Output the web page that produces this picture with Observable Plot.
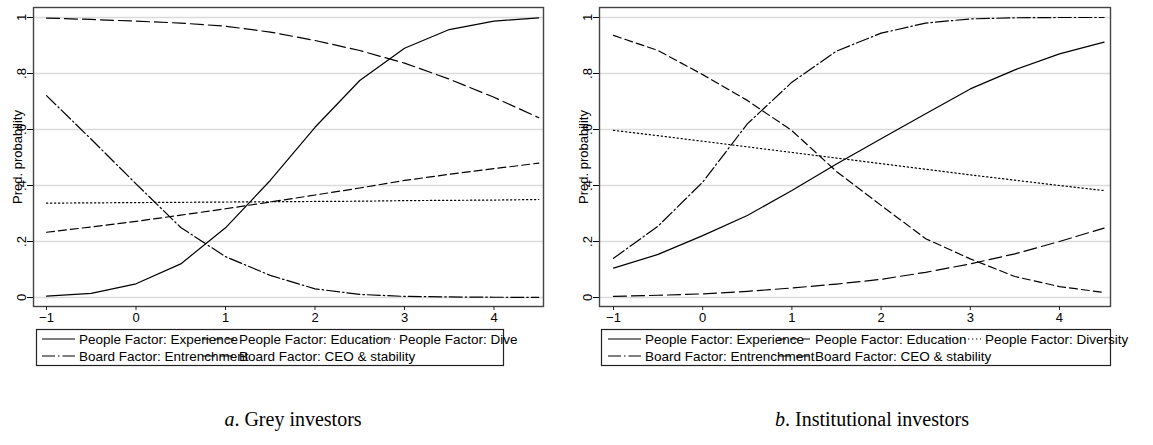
<!DOCTYPE html>
<html><head><meta charset="utf-8">
<script src="https://cdn.jsdelivr.net/npm/d3@7"></script>
<script src="https://cdn.jsdelivr.net/npm/@observablehq/plot@0.6"></script>
<style>
html,body{margin:0;padding:0;background:#fff;}
#wrap{position:relative;width:1153px;height:445px;overflow:hidden;font-family:"Liberation Sans",Arial,sans-serif;}
.panel{position:absolute;top:0;}
.legend{position:absolute;overflow:hidden;}
.caption{position:absolute;font-family:"Liberation Serif","DejaVu Serif",serif;font-size:20px;color:#000;white-space:nowrap;transform:translateX(-50%);}
</style></head><body><div id="wrap"></div>
<script>
// ---- data ----
const xValues = [-1, -0.5, 0, 0.5, 1, 1.5, 2, 2.5, 3, 3.5, 4, 4.5];
const seriesNames = ["People Factor: Experience", "People Factor: Education", "People Factor: Diversity", "Board Factor: Entrenchment", "Board Factor: CEO & stability"];

const greyExperience   = [0.005, 0.015, 0.049, 0.12, 0.249, 0.418, 0.608, 0.775, 0.89, 0.957, 0.987, 0.999];
const greyEducation    = [0.233, 0.252, 0.272, 0.294, 0.317, 0.341, 0.366, 0.391, 0.418, 0.44, 0.46, 0.48];
const greyDiversity    = [0.337, 0.338, 0.339, 0.340, 0.341, 0.342, 0.343, 0.344, 0.346, 0.347, 0.348, 0.350];
const greyEntrenchment = [0.721, 0.565, 0.406, 0.25, 0.146, 0.079, 0.031, 0.011, 0.004, 0.002, 0.001, 0.0005];
const greyCEO          = [0.998, 0.993, 0.987, 0.98, 0.969, 0.948, 0.918, 0.882, 0.837, 0.78, 0.715, 0.642];

const instExperience   = [0.105, 0.154, 0.221, 0.293, 0.382, 0.477, 0.567, 0.656, 0.745, 0.813, 0.87, 0.912];
const instEducation    = [0.936, 0.882, 0.796, 0.704, 0.596, 0.45, 0.329, 0.21, 0.138, 0.075, 0.039, 0.018];
const instDiversity    = [0.597, 0.578, 0.558, 0.538, 0.518, 0.498, 0.478, 0.458, 0.438, 0.419, 0.400, 0.382];
const instEntrenchment = [0.14, 0.255, 0.412, 0.62, 0.769, 0.88, 0.944, 0.98, 0.995, 0.999, 1.0, 1.0];
const instCEO          = [0.004, 0.008, 0.013, 0.022, 0.034, 0.048, 0.065, 0.09, 0.12, 0.156, 0.2, 0.248];

const xTicks = [-1, 0, 1, 2, 3, 4];
const xTickLabels = ["\u22121", "0", "1", "2", "3", "4"];
const yTicks = [0, 0.2, 0.4, 0.6, 0.8, 1];
const yTickLabels = ["0", ".2", ".4", ".6", ".8", "1"];
const yTitle = "Pred. probability";
const captionLetters = ["a", "b"];
const captionTexts = ["Grey investors", "Institutional investors"];

// ---- styles ----
const dashes = ["none", "8,4", "1.3,2.7", "13,3,1.5,3", "13,5"];
const FONT = "'Liberation Sans', Arial, Helvetica, sans-serif";

function makePanel(seriesValues, cfg) {
  const marks = [
    Plot.gridY(yTicks, {stroke: "#dadada", strokeOpacity: 1, strokeWidth: 1.4}),
    Plot.frame({stroke: "#444", strokeWidth: 1.4}),
    Plot.axisX({ticks: xTicks, tickSize: 4, tickPadding: 2, fontSize: 13, label: null, stroke: "#222",
      tickFormat: d => xTickLabels[xTicks.indexOf(d)]}),
    Plot.axisY({ticks: yTicks, tickSize: 6, tickPadding: 2, tickRotate: -90, fontSize: 13, label: null,
      tickFormat: d => yTickLabels[yTicks.indexOf(d)]}),
    Plot.text([yTitle], {text: d => d, frameAnchor: "left", rotate: -90, dx: -12, fontSize: 13,
      textAnchor: "middle", lineAnchor: "bottom", fill: "#000"})
  ];
  seriesValues.forEach((vals, k) => {
    const rows = xValues.map((x, i) => ({x, y: vals[i], s: seriesNames[k]}));
    marks.push(Plot.line(rows, {x: "x", y: "y", stroke: "#000", strokeWidth: 1.2,
      strokeDasharray: dashes[k] === "none" ? undefined : dashes[k]}));
  });
  return Plot.plot({
    width: cfg.width, height: 326,
    marginTop: 7, marginBottom: 20, marginLeft: cfg.ml, marginRight: cfg.mr,
    x: {domain: cfg.xd},
    y: {domain: [-0.0321, 1.0357]},
    style: {fontFamily: FONT, fontSize: "13px", color: "#000", background: "transparent"},
    marks
  });
}

function makeLegend(cfg) {
  const svg = d3.create("svg").attr("width", cfg.width).attr("height", 42)
    .style("font-family", FONT).style("font-size", "13.5px");
  svg.append("rect").attr("x", cfg.box[0] + 0.5).attr("y", 1.5)
    .attr("width", cfg.box[1] - cfg.box[0]).attr("height", 36)
    .attr("fill", "none").attr("stroke", "#222").attr("stroke-width", 1.2);
  const items = [[0, 0], [1, 1], [2, 2], [3, 0], [4, 1]]; // [series, column]
  items.forEach(([s, c], i) => {
    const row = i < 3 ? 0 : 1;
    const y = 11 + row * 17;
    const x0 = cfg.col0 + c * cfg.colW;
    svg.append("line").attr("x1", x0).attr("x2", x0 + 33).attr("y1", y).attr("y2", y)
      .attr("stroke", "#000").attr("stroke-width", 1.2)
      .attr("stroke-dasharray", dashes[s] === "none" ? null : dashes[s]);
    svg.append("text").attr("x", x0 + 37).attr("y", y).attr("dy", "0.35em").attr("fill", "#000")
      .text(seriesNames[s]);
  });
  return svg.node();
}

const wrap = document.getElementById("wrap");
const panels = [
  {left: 0, width: 576, ml: 33, mr: 33, xd: [-1.1453, 4.553], data: [greyExperience, greyEducation, greyDiversity, greyEntrenchment, greyCEO],
   leg: {width: 518, box: [36, 503], col0: 42, colW: 160}, cap: 293},
  {left: 576, width: 577, ml: 23, mr: 43, xd: [-1.157, 4.572], data: [instExperience, instEducation, instDiversity, instEntrenchment, instCEO],
   leg: {width: 577, box: [25, 534], col0: 32, colW: 170}, cap: 872}
];
panels.forEach((p, idx) => {
  const d = document.createElement("div");
  d.className = "panel"; d.style.left = p.left + "px";
  d.appendChild(makePanel(p.data, p));
  wrap.appendChild(d);
  const l = document.createElement("div");
  l.className = "legend"; l.style.left = p.left + "px"; l.style.top = "328px";
  l.style.width = p.leg.width + "px";
  l.appendChild(makeLegend(p.leg));
  wrap.appendChild(l);
  const c = document.createElement("div");
  c.className = "caption"; c.style.left = p.cap + "px"; c.style.top = "408px";
  const em = document.createElement("i"); em.textContent = captionLetters[idx];
  c.appendChild(em);
  c.appendChild(document.createTextNode(". " + captionTexts[idx]));
  wrap.appendChild(c);
});
</script></body></html>
